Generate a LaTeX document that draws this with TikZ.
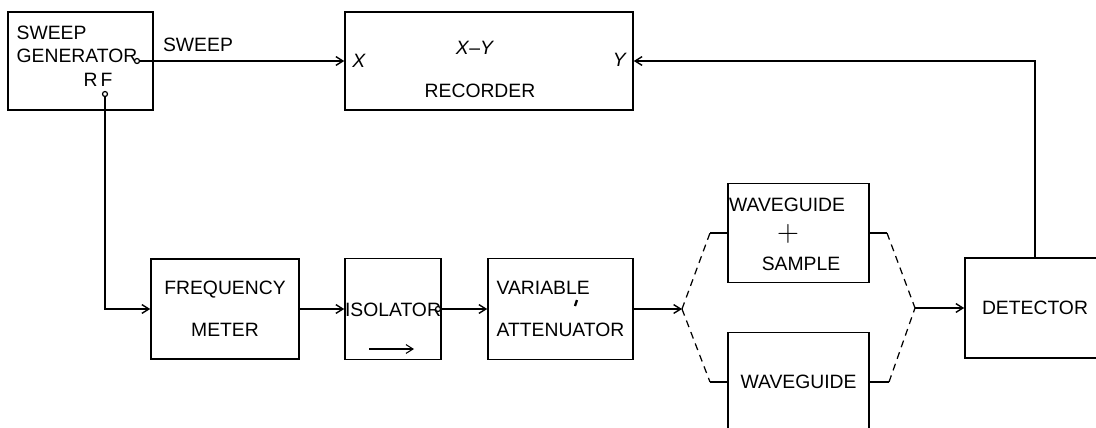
\documentclass[tikz,border=0pt]{standalone}
\usepackage{fontspec}
\setmainfont{Liberation Sans}
\usetikzlibrary{arrows.meta}

\begin{document}
\begin{tikzpicture}[x=0.02cm, y=-0.02cm, >={Straight Barb[length=4pt, width=5pt]},
  line width=0.8pt, font=\fontsize{11}{13}\selectfont,
  box/.style={draw, line width=0.9pt, inner sep=0pt, align=center},
  port/.style={draw, circle, fill=white, line width=0.7pt, inner sep=0pt, minimum size=0.1cm},
  lbl/.style={inner sep=0pt},
  link/.style={dash pattern=on 4pt off 3pt, line width=0.7pt}]

\useasboundingbox (0,0) rectangle (1096,427);
\clip (0,0) rectangle (1096,427);

% --- Sweep generator + X-Y recorder (top) ---
\node[box, minimum width=2.9cm, minimum height=1.96cm] (sweepgen) at (80.5,61) {};
\node[lbl, anchor=west, align=left] (sgtext) at (16,44) {SWEEP\\GENERATOR};
\node[lbl] (rflbl) at (98,80) {R\,F};
\node[port] (sgout) at (137,61) {};
\node[port] (rfout) at (105,94) {};

\node[box, minimum width=5.76cm, minimum height=1.96cm] (recorder) at (489,61) {};
\node[lbl] (xin) at (359,61) {\textit{X}};
\node[lbl] (xy) at (475,48) {\textit{X}–\textit{Y}};
\node[lbl] (yin) at (620,60) {\textit{Y}};
\node[lbl] (reclbl) at (480,91) {RECORDER};

\draw[->] (sgout) -- (sgout -| recorder.west);
\node[lbl] (sweeplbl) at (198,45) {SWEEP};

% --- Microwave bench (bottom) ---
\node[box, minimum width=2.96cm, minimum height=2cm] (freq) at (225,309) {FREQUENCY\\[11pt]METER};
\node[box, minimum width=1.92cm, minimum height=2.02cm] (isolator) at (393,309) {};
\node[lbl] (isotext) at (393,310) {ISOLATOR};
\node[port] (isoout) at (438,309) {};
\draw[->, line width=0.6pt] (369,349) -- (414,349);
\node[box, align=left, minimum width=2.9cm, minimum height=2.02cm] (atten) at (560.5,309) {VARIABLE\\[11pt]ATTENUATOR};
\draw[line width=1.3pt] (577,300) -- (575,306);

\node[box, minimum width=2.82cm, minimum height=1.98cm] (wgs) at (798.5,233) {};
\node[lbl] (wgstop) at (787,205) {WAVEGUIDE};
\node[lbl] (wgsplus) at (788,234) {\fontsize{18}{18}\selectfont$+$};
\node[lbl] (wgsbot) at (801,264) {SAMPLE};
\node[box, minimum width=2.82cm, minimum height=1.98cm] (wg) at (798.5,382) {WAVEGUIDE};
\node[box, minimum width=2.8cm, minimum height=2cm] (detector) at (1035,308) {DETECTOR};

\draw[->] (rfout) |- (freq.west);
\draw[->] (freq) -- (isolator);
\draw[->] (isoout) -- (atten);

% branch points of the two guides
\coordinate (jl) at (682,309);
\coordinate (jlt) at (710,233);
\coordinate (jlb) at (710,382);
\coordinate (jr) at (915,308);
\coordinate (jrt) at (887,233);
\coordinate (jrb) at (889,382);

\draw[->] (atten) -- (jl);
\draw[link] (jl) -- (jlt);
\draw[link] (jl) -- (jlb);
\draw (jlt) -- (wgs.west);
\draw (jlb) -- (wg.west);
\draw (wgs.east) -- (jrt);
\draw (wg.east) -- (jrb);
\draw[link] (jrt) -- (jr);
\draw[link] (jrb) -- (jr);
\draw[->] (jr) -- (detector.west);

% detector output back to Y input
\draw[->] (detector.north) |- (recorder.east);

\end{tikzpicture}
\end{document}
